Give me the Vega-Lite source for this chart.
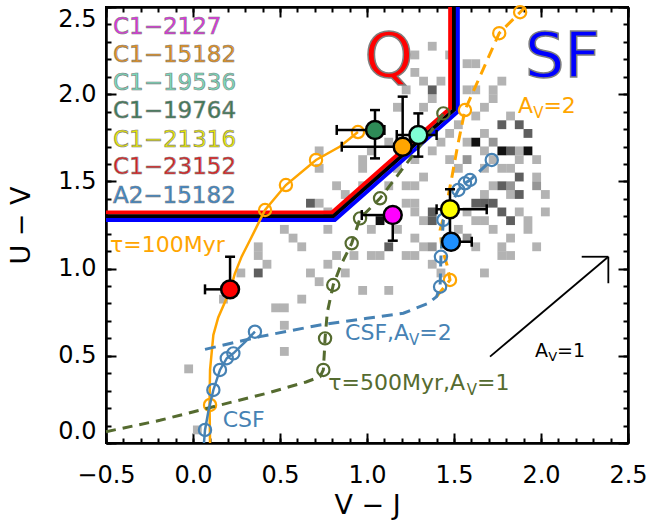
{
"$schema": "https://vega.github.io/schema/vega-lite/v6.json",
"width": 522, "height": 436,
"autosize": {"type": "none"},
"padding": {"left": 106, "top": 7, "right": 23, "bottom": 82},
"config": {"view": {"stroke": "#000000", "strokeWidth": 2}, "axis": {"grid": false, "domainColor": "#000", "domainWidth": 2, "tickColor": "#000", "labelColor": "#000", "titleColor": "#000", "labelFont": "DejaVu Sans", "titleFont": "DejaVu Sans", "titleFontWeight": "normal"}},
"datasets": {
"cells": [
{"v":0.725,"u":1.675,"g":1},{"v":0.725,"u":1.575,"g":1},{"v":0.825,"u":1.475,"g":1},{"v":0.875,"u":1.425,"g":1},{"v":0.725,"u":1.375,"g":1},{"v":0.775,"u":1.325,"g":1},{"v":0.525,"u":1.225,"g":1},{"v":0.575,"u":1.175,"g":1},{"v":0.775,"u":1.225,"g":1},{"v":0.375,"u":1.125,"g":1},{"v":0.975,"u":1.475,"g":1},{"v":0.975,"u":1.575,"g":1},{"v":0.975,"u":1.625,"g":1},{"v":1.025,"u":1.675,"g":1},{"v":0.825,"u":1.075,"g":1},{"v":1.025,"u":1.075,"g":1},{"v":1.075,"u":1.075,"g":1},{"v":0.375,"u":1.075,"g":1},{"v":0.425,"u":1.025,"g":1},{"v":0.475,"u":0.775,"g":1},{"v":0.525,"u":0.775,"g":1},{"v":0.525,"u":0.675,"g":1},{"v":0.525,"u":0.525,"g":1},{"v":-0.025,"u":0.425,"g":1},{"v":0.025,"u":0.075,"g":1},{"v":0.625,"u":0.825,"g":1},{"v":0.675,"u":0.975,"g":1},{"v":0.725,"u":0.925,"g":1},{"v":0.775,"u":1.025,"g":1},{"v":0.875,"u":0.975,"g":1},{"v":0.975,"u":0.875,"g":1},{"v":1.125,"u":0.875,"g":1},{"v":1.375,"u":1.025,"g":1},{"v":1.425,"u":0.975,"g":1},{"v":1.675,"u":0.975,"g":1},{"v":1.775,"u":1.075,"g":1},{"v":1.825,"u":1.075,"g":1},{"v":1.375,"u":2.275,"g":1},{"v":1.275,"u":2.225,"g":1},{"v":1.275,"u":2.125,"g":1},{"v":1.325,"u":2.075,"g":1},{"v":1.425,"u":2.075,"g":1},{"v":1.625,"u":2.175,"g":1},{"v":1.575,"u":2.175,"g":1},{"v":1.725,"u":2.025,"g":1},{"v":1.775,"u":2.075,"g":1},{"v":1.575,"u":2.025,"g":1},{"v":1.725,"u":1.975,"g":1},{"v":1.675,"u":1.925,"g":1},{"v":1.625,"u":1.875,"g":1},{"v":1.825,"u":1.875,"g":1},{"v":1.675,"u":1.775,"g":1},{"v":1.375,"u":1.975,"g":1},{"v":1.325,"u":1.925,"g":1},{"v":1.425,"u":1.725,"g":1},{"v":1.375,"u":1.675,"g":1},{"v":1.675,"u":1.675,"g":1},{"v":1.875,"u":1.675,"g":1},{"v":1.775,"u":1.575,"g":1},{"v":1.275,"u":1.325,"g":1},{"v":1.675,"u":1.275,"g":1},{"v":1.925,"u":1.225,"g":1},{"v":1.925,"u":1.275,"g":1},{"v":1.325,"u":1.125,"g":1},{"v":1.625,"u":1.125,"g":1},{"v":1.775,"u":1.125,"g":1},{"v":1.275,"u":1.075,"g":1},{"v":1.275,"u":1.625,"g":1},{"v":1.325,"u":1.525,"g":1},{"v":1.275,"u":1.475,"g":1},{"v":1.275,"u":1.375,"g":1},{"v":1.325,"u":1.275,"g":1},{"v":1.275,"u":1.175,"g":1},{"v":1.475,"u":1.625,"g":1},{"v":1.525,"u":1.575,"g":1},{"v":1.675,"u":1.575,"g":1},{"v":1.725,"u":1.625,"g":1},{"v":1.825,"u":1.575,"g":1},{"v":1.875,"u":1.625,"g":1},{"v":1.725,"u":1.475,"g":1},{"v":1.825,"u":1.425,"g":1},{"v":1.675,"u":1.425,"g":1},{"v":1.575,"u":1.325,"g":1},{"v":1.625,"u":1.275,"g":1},{"v":1.725,"u":1.225,"g":1},{"v":1.825,"u":1.175,"g":1},{"v":1.875,"u":1.325,"g":1},{"v":1.975,"u":1.525,"g":1},{"v":1.525,"u":1.225,"g":1},{"v":1.475,"u":1.775,"g":1},{"v":1.525,"u":1.825,"g":1},{"v":1.575,"u":1.725,"g":1},{"v":1.625,"u":2.025,"g":1},{"v":1.175,"u":1.575,"g":1},{"v":1.125,"u":1.475,"g":1},{"v":1.225,"u":1.475,"g":1},{"v":1.225,"u":1.375,"g":1},{"v":1.175,"u":1.225,"g":1},{"v":1.225,"u":1.075,"g":1},{"v":1.025,"u":1.225,"g":1},{"v":1.975,"u":1.625,"g":1},{"v":2.025,"u":1.425,"g":1},{"v":1.975,"u":1.125,"g":1},{"v":2.025,"u":1.325,"g":1},{"v":0.275,"u":0.975,"g":1},{"v":0.175,"u":0.825,"g":1},{"v":1.125,"u":1.725,"g":1},{"v":1.175,"u":1.925,"g":1},{"v":1.225,"u":2.025,"g":1},{"v":1.475,"u":2.225,"g":1},{"v":0.625,"u":1.125,"g":1},{"v":0.925,"u":1.075,"g":1},
{"v":1.575,"u":1.625,"g":2},{"v":1.725,"u":1.725,"g":2},{"v":1.825,"u":1.475,"g":2},{"v":1.975,"u":1.475,"g":2},{"v":1.375,"u":1.125,"g":2},{"v":1.575,"u":1.175,"g":2},
{"v":0.675,"u":1.375,"g":3},{"v":0.375,"u":0.975,"g":3},{"v":1.375,"u":2.025,"g":3},{"v":1.125,"u":1.125,"g":3},{"v":1.375,"u":1.325,"g":3},{"v":1.375,"u":1.275,"g":3},{"v":1.775,"u":1.825,"g":3},{"v":1.875,"u":1.825,"g":3},{"v":1.925,"u":1.775,"g":3},{"v":1.825,"u":1.675,"g":3},{"v":1.875,"u":1.525,"g":3},{"v":1.775,"u":1.475,"g":3},{"v":1.625,"u":1.375,"g":3},{"v":1.675,"u":1.375,"g":3},{"v":1.725,"u":1.375,"g":3},{"v":1.875,"u":1.425,"g":3},{"v":1.775,"u":1.325,"g":3},{"v":1.825,"u":1.275,"g":3},
{"v":1.075,"u":1.275,"g":4},{"v":1.625,"u":1.725,"g":4},{"v":1.775,"u":1.675,"g":4},{"v":1.925,"u":1.675,"g":4}
],
"bound": [
{"s":"q","o":1,"v":-0.5,"u":1.322},{"s":"q","o":2,"v":0.799,"u":1.322},{"s":"q","o":3,"v":1.478,"u":1.92},{"s":"q","o":4,"v":1.478,"u":2.5},
{"s":"m","o":1,"v":-0.5,"u":1.3},{"s":"m","o":2,"v":0.807,"u":1.3},{"s":"m","o":3,"v":1.5,"u":1.91},{"s":"m","o":4,"v":1.5,"u":2.5},
{"s":"sf","o":1,"v":-0.5,"u":1.278},{"s":"sf","o":2,"v":0.815,"u":1.278},{"s":"sf","o":3,"v":1.522,"u":1.9},{"s":"sf","o":4,"v":1.522,"u":2.5}
],
"tracks": [
{"k":"o100","o":1,"v":0.098,"u":0.0},{"k":"o100","o":2,"v":0.095,"u":0.22},{"k":"o100","o":3,"v":0.098,"u":0.42},{"k":"o100","o":4,"v":0.117,"u":0.62},{"k":"o100","o":5,"v":0.145,"u":0.72},{"k":"o100","o":6,"v":0.18,"u":0.8},{"k":"o100","o":7,"v":0.215,"u":0.88},{"k":"o100","o":8,"v":0.24,"u":0.97},{"k":"o100","o":9,"v":0.28,"u":1.07},{"k":"o100","o":10,"v":0.328,"u":1.164},{"k":"o100","o":11,"v":0.414,"u":1.336},{"k":"o100","o":12,"v":0.534,"u":1.479},{"k":"o100","o":13,"v":0.707,"u":1.623},{"k":"o100","o":14,"v":0.845,"u":1.7},{"k":"o100","o":15,"v":0.948,"u":1.783},
{"k":"o100d","o":1,"v":1.4,"u":0.84},{"k":"o100d","o":2,"v":1.477,"u":0.935},{"k":"o100d","o":3,"v":1.46,"u":1.02},{"k":"o100d","o":4,"v":1.43,"u":1.12},{"k":"o100d","o":5,"v":1.42,"u":1.22},{"k":"o100d","o":6,"v":1.45,"u":1.33},{"k":"o100d","o":7,"v":1.487,"u":1.52},{"k":"o100d","o":8,"v":1.52,"u":1.7},{"k":"o100d","o":9,"v":1.563,"u":1.909},{"k":"o100d","o":10,"v":1.76,"u":2.35},{"k":"o100d","o":11,"v":1.88,"u":2.47},{"k":"o100d","o":12,"v":1.91,"u":2.5},
{"k":"g500","o":1,"v":-0.5,"u":0.065},{"k":"g500","o":2,"v":-0.19,"u":0.13},{"k":"g500","o":3,"v":0.117,"u":0.208},{"k":"g500","o":4,"v":0.424,"u":0.285},{"k":"g500","o":5,"v":0.65,"u":0.35},{"k":"g500","o":6,"v":0.73,"u":0.38},{"k":"g500","o":7,"v":0.749,"u":0.419},{"k":"g500","o":8,"v":0.755,"u":0.52},{"k":"g500","o":9,"v":0.759,"u":0.6},{"k":"g500","o":10,"v":0.772,"u":0.75},{"k":"g500","o":11,"v":0.806,"u":0.906},{"k":"g500","o":12,"v":0.85,"u":1.02},{"k":"g500","o":13,"v":0.912,"u":1.145},{"k":"g500","o":14,"v":0.96,"u":1.288},{"k":"g500","o":15,"v":1.075,"u":1.403},{"k":"g500","o":16,"v":1.18,"u":1.54},{"k":"g500","o":17,"v":1.286,"u":1.68},{"k":"g500","o":18,"v":1.37,"u":1.79},{"k":"g500","o":19,"v":1.439,"u":1.89},
{"k":"csf","o":1,"v":0.063,"u":0.0},{"k":"csf","o":2,"v":0.069,"u":0.075},{"k":"csf","o":3,"v":0.09,"u":0.19},{"k":"csf","o":4,"v":0.117,"u":0.304},{"k":"csf","o":5,"v":0.155,"u":0.419},{"k":"csf","o":6,"v":0.194,"u":0.486},{"k":"csf","o":7,"v":0.232,"u":0.514},{"k":"csf","o":8,"v":0.3,"u":0.58},{"k":"csf","o":9,"v":0.356,"u":0.638},
{"k":"csfd","o":1,"v":0.069,"u":0.537},{"k":"csfd","o":2,"v":0.385,"u":0.61},{"k":"csfd","o":3,"v":0.73,"u":0.677},{"k":"csfd","o":4,"v":1.0,"u":0.715},{"k":"csfd","o":5,"v":1.209,"u":0.744},{"k":"csfd","o":6,"v":1.35,"u":0.8},{"k":"csfd","o":7,"v":1.4,"u":0.839},{"k":"csfd","o":8,"v":1.42,"u":0.896},{"k":"csfd","o":9,"v":1.425,"u":1.068},{"k":"csfd","o":10,"v":1.439,"u":1.279},{"k":"csfd","o":11,"v":1.525,"u":1.451},{"k":"csfd","o":12,"v":1.563,"u":1.489},{"k":"csfd","o":13,"v":1.592,"u":1.508},{"k":"csfd","o":14,"v":1.717,"u":1.623}
],
"rings": [
{"k":"o100","v":0.098,"u":0.218},{"k":"o100","v":0.414,"u":1.336},{"k":"o100","v":0.534,"u":1.479},{"k":"o100","v":0.707,"u":1.623},{"k":"o100","v":0.948,"u":1.783},
{"k":"o100d","v":1.477,"u":0.935},{"k":"o100d","v":1.563,"u":1.909},{"k":"o100d","v":1.76,"u":2.35},{"k":"o100d","v":1.88,"u":2.47},
{"k":"g500","v":0.749,"u":0.419},{"k":"g500","v":0.759,"u":0.6},{"k":"g500","v":0.806,"u":0.906},{"k":"g500","v":0.912,"u":1.145},{"k":"g500","v":0.96,"u":1.288},{"k":"g500","v":1.075,"u":1.403},{"k":"g500","v":1.439,"u":1.89},
{"k":"csf","v":0.069,"u":0.075},{"k":"csf","v":0.117,"u":0.304},{"k":"csf","v":0.155,"u":0.419},{"k":"csf","v":0.194,"u":0.486},{"k":"csf","v":0.232,"u":0.514},{"k":"csf","v":0.356,"u":0.638},
{"k":"csfd","v":1.42,"u":0.896},{"k":"csfd","v":1.425,"u":1.068},{"k":"csfd","v":1.439,"u":1.279},{"k":"csfd","v":1.525,"u":1.451},{"k":"csfd","v":1.563,"u":1.489},{"k":"csfd","v":1.592,"u":1.508},{"k":"csfd","v":1.717,"u":1.623}
],
"arrow": [
{"v":1.707,"u":0.495,"v2":2.387,"u2":1.068},{"v":2.234,"u":1.068,"v2":2.387,"u2":1.068},{"v":2.387,"u":1.068,"v2":2.387,"u2":0.916}
],
"stars": [
{"name":"C1−2127","v":1.148,"u":1.307,"vlo":0.97,"vhi":1.148,"ulo":1.16,"uhi":1.307},
{"name":"C1−15182","v":1.205,"u":1.699,"vlo":0.855,"vhi":1.205,"ulo":1.699,"uhi":1.986},
{"name":"C1−19536","v":1.295,"u":1.766,"vlo":1.171,"vhi":1.4,"ulo":1.642,"uhi":1.89},
{"name":"C1−19764","v":1.046,"u":1.795,"vlo":0.826,"vhi":1.1,"ulo":1.632,"uhi":1.909},
{"name":"C1−21316","v":1.477,"u":1.34,"vlo":1.4,"vhi":1.688,"ulo":1.154,"uhi":1.455},
{"name":"C1−23152","v":0.213,"u":0.881,"vlo":0.069,"vhi":0.213,"ulo":0.881,"uhi":1.068},
{"name":"A2−15182","v":1.483,"u":1.154,"vlo":1.483,"vhi":1.602,"ulo":1.154,"uhi":1.154}
],
"notes": [
{"t":"τ=100Myr","v":-0.477,"u":1.095,"grp":"t100","lvl":"main"},
{"t":"A","v":1.868,"u":1.892,"grp":"t100","lvl":"main"},
{"t":"V","v":1.955,"u":1.864,"grp":"t100","lvl":"sub"},
{"t":"=2","v":2.014,"u":1.892,"grp":"t100","lvl":"main"},
{"t":"CSF","v":0.171,"u":0.094,"grp":"csf","lvl":"main"},
{"t":"CSF,A","v":0.874,"u":0.591,"grp":"csf","lvl":"main"},
{"t":"V","v":1.242,"u":0.563,"grp":"csf","lvl":"sub"},
{"t":"=2","v":1.301,"u":0.591,"grp":"csf","lvl":"main"},
{"t":"τ=500Myr,A","v":0.778,"u":0.304,"grp":"t500","lvl":"main"},
{"t":"V","v":1.573,"u":0.276,"grp":"t500","lvl":"sub"},
{"t":"=1","v":1.632,"u":0.304,"grp":"t500","lvl":"main"},
{"t":"A","v":1.966,"u":0.495,"grp":"vec","lvl":"vmain"},
{"t":"V","v":2.041,"u":0.47,"grp":"vec","lvl":"vsub"},
{"t":"=1","v":2.092,"u":0.495,"grp":"vec","lvl":"vmain"}
],
"big": [
{"t":"Q","v":1.126,"u":2.099},{"t":"SF","v":2.124,"u":2.1}
],
"labels": [
{"name":"C1−2127","v":-0.46,"u":2.343},{"name":"C1−15182","v":-0.46,"u":2.182},{"name":"C1−19536","v":-0.46,"u":2.022},{"name":"C1−19764","v":-0.46,"u":1.861},{"name":"C1−21316","v":-0.46,"u":1.7},{"name":"C1−23152","v":-0.46,"u":1.54},{"name":"A2−15182","v":-0.46,"u":1.379}
]
},
"encoding": {
"x": {"field": "v", "type": "quantitative", "scale": {"domain": [-0.5, 2.5], "nice": false, "zero": false}, "axis": null},
"y": {"field": "u", "type": "quantitative", "scale": {"domain": [0, 2.5], "nice": false, "zero": false}, "axis": null}
},
"layer": [
{"data": {"name": "cells"},
 "mark": {"type": "square", "size": 78, "opacity": 1, "strokeWidth": 0},
 "encoding": {
  "x": {"field": "v", "type": "quantitative", "scale": {"domain": [-0.5, 2.5], "nice": false, "zero": false},
        "axis": {"orient": "bottom", "values": [-0.5, 0, 0.5, 1, 1.5, 2, 2.5], "format": ".1f", "ticks": true, "tickSize": -10, "tickWidth": 2, "domain": true, "labelFontSize": 24, "labelPadding": 30, "labelFlush": false, "title": "V − J", "titleFontSize": 27, "titlePadding": 5, "grid": false}},
  "y": {"field": "u", "type": "quantitative", "scale": {"domain": [0, 2.5], "nice": false, "zero": false},
        "axis": {"orient": "left", "values": [0, 0.5, 1, 1.5, 2, 2.5], "format": ".1f", "ticks": true, "tickSize": -10, "tickWidth": 2, "domain": true, "labelFontSize": 24, "labelPadding": 20, "labelFlush": true, "title": "U − V", "titleFontSize": 27, "titlePadding": 22, "grid": false}},
  "color": {"field": "g", "type": "ordinal", "scale": {"domain": [1, 2, 3, 4], "range": ["#b3b3b3", "#969696", "#5f5f5f", "#111111"]}, "legend": null}
 }},
{"data": {"name": "bound"},
 "mark": {"type": "line", "strokeWidth": 4},
 "encoding": {
  "x": {"field": "v", "type": "quantitative", "scale": {"domain": [-0.5, 2.5], "nice": false, "zero": false},
        "axis": {"orient": "bottom", "values": [-0.5,-0.4,-0.3,-0.2,-0.1,0,0.1,0.2,0.3,0.4,0.5,0.6,0.7,0.8,0.9,1,1.1,1.2,1.3,1.4,1.5,1.6,1.7,1.8,1.9,2,2.1,2.2,2.3,2.4,2.5], "labelExpr": "''", "domain": true, "ticks": true, "tickSize": -5, "tickWidth": 2, "title": null, "grid": false}},
  "y": {"field": "u", "type": "quantitative", "scale": {"domain": [0, 2.5], "nice": false, "zero": false},
        "axis": {"orient": "left", "values": [0,0.1,0.2,0.3,0.4,0.5,0.6,0.7,0.8,0.9,1,1.1,1.2,1.3,1.4,1.5,1.6,1.7,1.8,1.9,2,2.1,2.2,2.3,2.4,2.5], "labelExpr": "''", "domain": true, "ticks": true, "tickSize": -5, "tickWidth": 2, "title": null, "grid": false}},
  "color": {"field": "s", "type": "nominal", "scale": {"domain": ["q", "m", "sf"], "range": ["#ff0000", "#000000", "#0000ff"]}, "legend": null},
  "order": {"field": "o", "type": "quantitative"}
 }},
{"data": {"name": "tracks"},
 "transform": [{"filter": "datum.k === 'o100d'"}],
 "mark": {"type": "line", "color": "#ffa500", "strokeWidth": 3, "strokeDash": [11, 7]},
 "encoding": {"order": {"field": "o", "type": "quantitative"}}},
{"data": {"name": "rings"},
 "transform": [{"filter": "datum.k === 'o100d'"}],
 "mark": {"type": "point", "shape": "circle", "filled": false, "color": "#ffa500", "strokeWidth": 2.2, "size": 150, "opacity": 1}},
{"data": {"name": "tracks"},
 "transform": [{"filter": "datum.k === 'o100'"}],
 "mark": {"type": "line", "color": "#ffa500", "strokeWidth": 2.5},
 "encoding": {
  "x": {"field": "v", "type": "quantitative", "scale": {"domain": [-0.5, 2.5], "nice": false, "zero": false},
        "axis": {"orient": "top", "values": [-0.5, 0, 0.5, 1, 1.5, 2, 2.5], "labelExpr": "''", "domain": true, "ticks": true, "tickSize": -10, "tickWidth": 2, "title": null, "grid": false}},
  "y": {"field": "u", "type": "quantitative", "scale": {"domain": [0, 2.5], "nice": false, "zero": false},
        "axis": {"orient": "right", "values": [0, 0.5, 1, 1.5, 2, 2.5], "labelExpr": "''", "domain": true, "ticks": true, "tickSize": -10, "tickWidth": 2, "title": null, "grid": false}},
  "order": {"field": "o", "type": "quantitative"}
 }},
{"data": {"name": "rings"},
 "transform": [{"filter": "datum.k === 'o100'"}],
 "mark": {"type": "point", "shape": "circle", "filled": false, "color": "#ffa500", "strokeWidth": 2.2, "size": 150, "opacity": 1}},
{"data": {"name": "tracks"},
 "transform": [{"filter": "datum.k === 'g500'"}],
 "mark": {"type": "line", "color": "#556b2f", "strokeWidth": 3, "strokeDash": [10, 7]},
 "encoding": {
  "x": {"field": "v", "type": "quantitative", "scale": {"domain": [-0.5, 2.5], "nice": false, "zero": false},
        "axis": {"orient": "top", "values": [-0.5,-0.4,-0.3,-0.2,-0.1,0,0.1,0.2,0.3,0.4,0.5,0.6,0.7,0.8,0.9,1,1.1,1.2,1.3,1.4,1.5,1.6,1.7,1.8,1.9,2,2.1,2.2,2.3,2.4,2.5], "labelExpr": "''", "domain": true, "ticks": true, "tickSize": -5, "tickWidth": 2, "title": null, "grid": false}},
  "y": {"field": "u", "type": "quantitative", "scale": {"domain": [0, 2.5], "nice": false, "zero": false},
        "axis": {"orient": "right", "values": [0,0.1,0.2,0.3,0.4,0.5,0.6,0.7,0.8,0.9,1,1.1,1.2,1.3,1.4,1.5,1.6,1.7,1.8,1.9,2,2.1,2.2,2.3,2.4,2.5], "labelExpr": "''", "domain": true, "ticks": true, "tickSize": -5, "tickWidth": 2, "title": null, "grid": false}},
  "order": {"field": "o", "type": "quantitative"}
 }},
{"data": {"name": "rings"},
 "transform": [{"filter": "datum.k === 'g500'"}],
 "mark": {"type": "point", "shape": "circle", "filled": false, "color": "#556b2f", "strokeWidth": 2.2, "size": 150, "opacity": 1}},
{"data": {"name": "tracks"},
 "transform": [{"filter": "datum.k === 'csfd'"}],
 "mark": {"type": "line", "color": "#4682b4", "strokeWidth": 3, "strokeDash": [11, 7]},
 "encoding": {"order": {"field": "o", "type": "quantitative"}}},
{"data": {"name": "rings"},
 "transform": [{"filter": "datum.k === 'csfd'"}],
 "mark": {"type": "point", "shape": "circle", "filled": false, "color": "#4682b4", "strokeWidth": 2.2, "size": 150, "opacity": 1}},
{"data": {"name": "tracks"},
 "transform": [{"filter": "datum.k === 'csf'"}],
 "mark": {"type": "line", "color": "#4682b4", "strokeWidth": 2.5},
 "encoding": {"order": {"field": "o", "type": "quantitative"}}},
{"data": {"name": "rings"},
 "transform": [{"filter": "datum.k === 'csf'"}],
 "mark": {"type": "point", "shape": "circle", "filled": false, "color": "#4682b4", "strokeWidth": 2.2, "size": 150, "opacity": 1}},
{"data": {"name": "arrow"},
 "mark": {"type": "rule", "color": "#000000", "strokeWidth": 1.8},
 "encoding": {"x2": {"field": "v2"}, "y2": {"field": "u2"}}},
{"data": {"name": "stars"},
 "mark": {"type": "rule", "color": "#000000", "strokeWidth": 2.5},
 "encoding": {"x": {"field": "vlo", "type": "quantitative", "scale": {"domain": [-0.5, 2.5], "nice": false, "zero": false}, "axis": null}, "x2": {"field": "vhi"}}},
{"data": {"name": "stars"},
 "mark": {"type": "rule", "color": "#000000", "strokeWidth": 2.5},
 "encoding": {"y": {"field": "ulo", "type": "quantitative", "scale": {"domain": [0, 2.5], "nice": false, "zero": false}, "axis": null}, "y2": {"field": "uhi"}}},
{"data": {"name": "stars"},
 "mark": {"type": "tick", "orient": "vertical", "color": "#000000", "thickness": 2.5, "size": 10, "opacity": 1},
 "encoding": {"x": {"field": "vlo", "type": "quantitative", "scale": {"domain": [-0.5, 2.5], "nice": false, "zero": false}, "axis": null}}},
{"data": {"name": "stars"},
 "mark": {"type": "tick", "orient": "vertical", "color": "#000000", "thickness": 2.5, "size": 10, "opacity": 1},
 "encoding": {"x": {"field": "vhi", "type": "quantitative", "scale": {"domain": [-0.5, 2.5], "nice": false, "zero": false}, "axis": null}}},
{"data": {"name": "stars"},
 "mark": {"type": "tick", "orient": "horizontal", "color": "#000000", "thickness": 2.5, "size": 10, "opacity": 1},
 "encoding": {"y": {"field": "ulo", "type": "quantitative", "scale": {"domain": [0, 2.5], "nice": false, "zero": false}, "axis": null}}},
{"data": {"name": "stars"},
 "mark": {"type": "tick", "orient": "horizontal", "color": "#000000", "thickness": 2.5, "size": 10, "opacity": 1},
 "encoding": {"y": {"field": "uhi", "type": "quantitative", "scale": {"domain": [0, 2.5], "nice": false, "zero": false}, "axis": null}}},
{"data": {"name": "stars"},
 "mark": {"type": "point", "shape": "circle", "filled": true, "stroke": "#000000", "strokeWidth": 2.5, "size": 320, "opacity": 1},
 "encoding": {"color": {"field": "name", "type": "nominal", "scale": {"domain": ["C1−2127","C1−15182","C1−19536","C1−19764","C1−21316","C1−23152","A2−15182"], "range": ["#ff00ff","#ffa500","#7fffd4","#2e8b57","#ffff00","#ff0000","#1e90ff"]}, "legend": null}}},
{"data": {"name": "notes"},
 "transform": [{"filter": "datum.lvl === 'main'"}],
 "mark": {"type": "text", "align": "left", "baseline": "alphabetic", "font": "DejaVu Sans", "fontSize": 22},
 "encoding": {"text": {"field": "t"}, "color": {"field": "grp", "type": "nominal", "scale": {"domain": ["t100","csf","t500","vec"], "range": ["#ffa500","#4682b4","#556b2f","#000000"]}, "legend": null}}},
{"data": {"name": "notes"},
 "transform": [{"filter": "datum.lvl === 'sub'"}],
 "mark": {"type": "text", "align": "left", "baseline": "alphabetic", "font": "DejaVu Sans", "fontSize": 15},
 "encoding": {"text": {"field": "t"}, "color": {"field": "grp", "type": "nominal", "scale": {"domain": ["t100","csf","t500","vec"], "range": ["#ffa500","#4682b4","#556b2f","#000000"]}, "legend": null}}},
{"data": {"name": "notes"},
 "transform": [{"filter": "datum.lvl === 'vmain'"}],
 "mark": {"type": "text", "align": "left", "baseline": "alphabetic", "font": "DejaVu Sans", "fontSize": 19, "color": "#000000"},
 "encoding": {"text": {"field": "t"}}},
{"data": {"name": "notes"},
 "transform": [{"filter": "datum.lvl === 'vsub'"}],
 "mark": {"type": "text", "align": "left", "baseline": "alphabetic", "font": "DejaVu Sans", "fontSize": 13, "color": "#000000"},
 "encoding": {"text": {"field": "t"}}},
{"data": {"name": "big"},
 "mark": {"type": "text", "align": "center", "baseline": "alphabetic", "font": "DejaVu Sans", "fontSize": 62, "stroke": "#7f7f7f", "strokeWidth": 1.5},
 "encoding": {"text": {"field": "t"}, "color": {"field": "t", "type": "nominal", "scale": {"domain": ["Q", "SF"], "range": ["#ff0000", "#0000ff"]}, "legend": null}}},
{"data": {"name": "labels"},
 "mark": {"type": "text", "align": "left", "baseline": "alphabetic", "font": "DejaVu Sans", "fontSize": 23, "stroke": "#808080", "strokeWidth": 0.6},
 "encoding": {"text": {"field": "name"}, "color": {"field": "name", "type": "nominal", "scale": {"domain": ["C1−2127","C1−15182","C1−19536","C1−19764","C1−21316","C1−23152","A2−15182"], "range": ["#e232e2","#e8921c","#78dcbc","#3a7a55","#e8e800","#e02020","#3a88cc"]}, "legend": null}}}
],
"resolve": {"scale": {"color": "independent", "x": "independent", "y": "independent"}, "axis": {"x": "independent", "y": "independent"}}
}
